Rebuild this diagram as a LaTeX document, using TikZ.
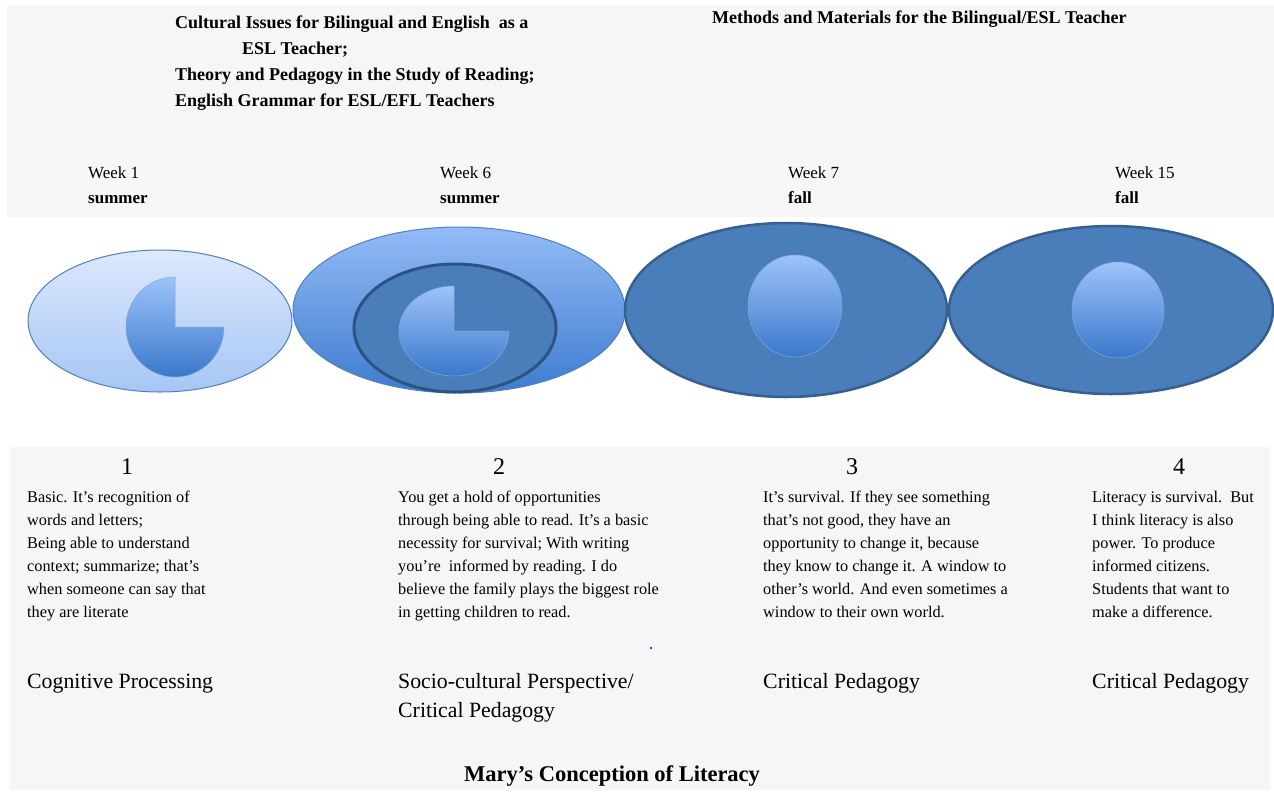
\documentclass[tikz,border=0pt]{standalone}
\usepackage{fontspec}
\setmainfont{Liberation Serif}
\usetikzlibrary{positioning}

\definecolor{panel}{HTML}{F6F6F6}
\definecolor{edgeblue}{HTML}{4F81BD}
\definecolor{paletop}{HTML}{DCE8FC}
\definecolor{palebot}{HTML}{A6C6F5}
\definecolor{midtop}{HTML}{93BBF7}
\definecolor{midbot}{HTML}{3E7CCF}
\definecolor{pietop}{HTML}{9DC3FA}
\definecolor{piebot}{HTML}{3A78CB}
\definecolor{deepfill}{HTML}{4A7EBB}
\definecolor{deepedge}{HTML}{36608F}
\definecolor{ringedge}{HTML}{2D5384}

\tikzstyle{every node}=[inner sep=0pt,anchor=base west]
\tikzstyle{course}=[align=left,font=\bfseries\fontsize{18}{26}\selectfont]
\tikzstyle{week}=[font=\fontsize{17}{20}\selectfont]
\tikzstyle{season}=[font=\bfseries\fontsize{17}{20}\selectfont]
\tikzstyle{stage}=[anchor=base,font=\fontsize{24}{28}\selectfont]
\tikzstyle{quote}=[align=left,font=\fontsize{16.3}{23}\selectfont]
\tikzstyle{view}=[align=left,font=\fontsize{21.8}{29}\selectfont]
\tikzstyle{paleoval}=[draw=edgeblue,line width=1pt,top color=paletop,bottom color=palebot]
\tikzstyle{midoval}=[draw=edgeblue,line width=1pt,top color=midtop,bottom color=midbot]
\tikzstyle{deepoval}=[draw=deepedge,line width=2.5pt,fill=deepfill]
\tikzstyle{pie}=[draw=edgeblue!70,line width=0.5pt,top color=pietop,bottom color=piebot]

\begin{document}
\begin{tikzpicture}[x=1pt,y=-1pt]
	\useasboundingbox (0,0) rectangle (1274,793);
	%panels
	\fill[panel] (7,5) rectangle (1274,217);
	\fill[panel] (10,447) rectangle (1270,790);
	%courses (base = last line)
	\node[course] (summercourses) at (175,106) {Cultural Issues for Bilingual and English\ \ as a\\\hspace*{67pt}ESL Teacher;\\Theory and Pedagogy in the Study of Reading;\\English Grammar for ESL/EFL Teachers};
	\node[course] (fallcourse) at (712,23) {Methods and Materials for the Bilingual/ESL Teacher};
	%weeks
	\foreach \x/\w/\s/\n in {88/1/summer/a,440/6/summer/b,788/7/fall/c,1115/15/fall/d}
	{
		\node[week] (week\n) at (\x,178) {Week \w};
		\node[season] (season\n) at (\x,203) {\s};
	}
	%ovals
	\draw[paleoval] (160,321) ellipse [x radius=132pt, y radius=71pt];
	\draw[pie] (175,327) -- ++(0:49pt) arc[start angle=0, end angle=-270, x radius=49pt, y radius=50pt] -- cycle;
	\draw[midoval] (459,310) ellipse [x radius=166pt, y radius=83pt];
	\draw[draw=ringedge,line width=3pt,fill=deepfill] (455,328) ellipse [x radius=101pt, y radius=64pt];
	\draw[pie] (454,331) -- ++(0:55pt) arc[start angle=0, end angle=-270, x radius=55pt, y radius=45pt] -- cycle;
	\draw[deepoval] (786,310) ellipse [x radius=161pt, y radius=87pt];
	\draw[deepoval] (1111,310) ellipse [x radius=162pt, y radius=84pt];
	\draw[pie] (795,306) ellipse [x radius=47pt, y radius=51pt];
	\draw[pie] (1118,310) ellipse [x radius=46pt, y radius=48pt];
	%stages
	\node[stage] (stage1) at (127,474) {1};
	\node[stage] (stage2) at (499,474) {2};
	\node[stage] (stage3) at (852,474) {3};
	\node[stage] (stage4) at (1179,474) {4};
	\node[quote] (quote1) at (27,617) {Basic. It’s recognition of\\words and letters;\\Being able to understand\\context; summarize; that’s\\when someone can say that\\they are literate};
	\node[quote] (quote2) at (398,617) {You get a hold of opportunities\\through being able to read. It’s a basic\\necessity for survival; With writing\\you’re\ \ informed by reading. I do\\believe the family plays the biggest role\\in getting children to read.};
	\node[quote] (quote3) at (763,617) {It’s survival. If they see something\\that’s not good, they have an\\opportunity to change it, because\\they know to change it. A window to\\other’s world. And even sometimes a\\window to their own world.};
	\node[quote] (quote4) at (1092,617) {Literacy is survival.\ \ But\\I think literacy is also\\power. To produce\\informed citizens.\\Students that want to\\make a difference.};
	\fill[blue] (651,648) circle (1.2pt);
	%views
	\node[view] (view1) at (27,688) {Cognitive Processing};
	\node[view] (view2) at (398,717) {Socio-cultural Perspective/\\Critical Pedagogy};
	\node[view] (view3) at (763,688) {Critical Pedagogy};
	\node[view] (view4) at (1092,688) {Critical Pedagogy};
	%title
	\node[anchor=base,font=\bfseries\fontsize{22.5}{26}\selectfont] (title) at (612,781) {Mary’s Conception of Literacy};
\end{tikzpicture}
\end{document}
